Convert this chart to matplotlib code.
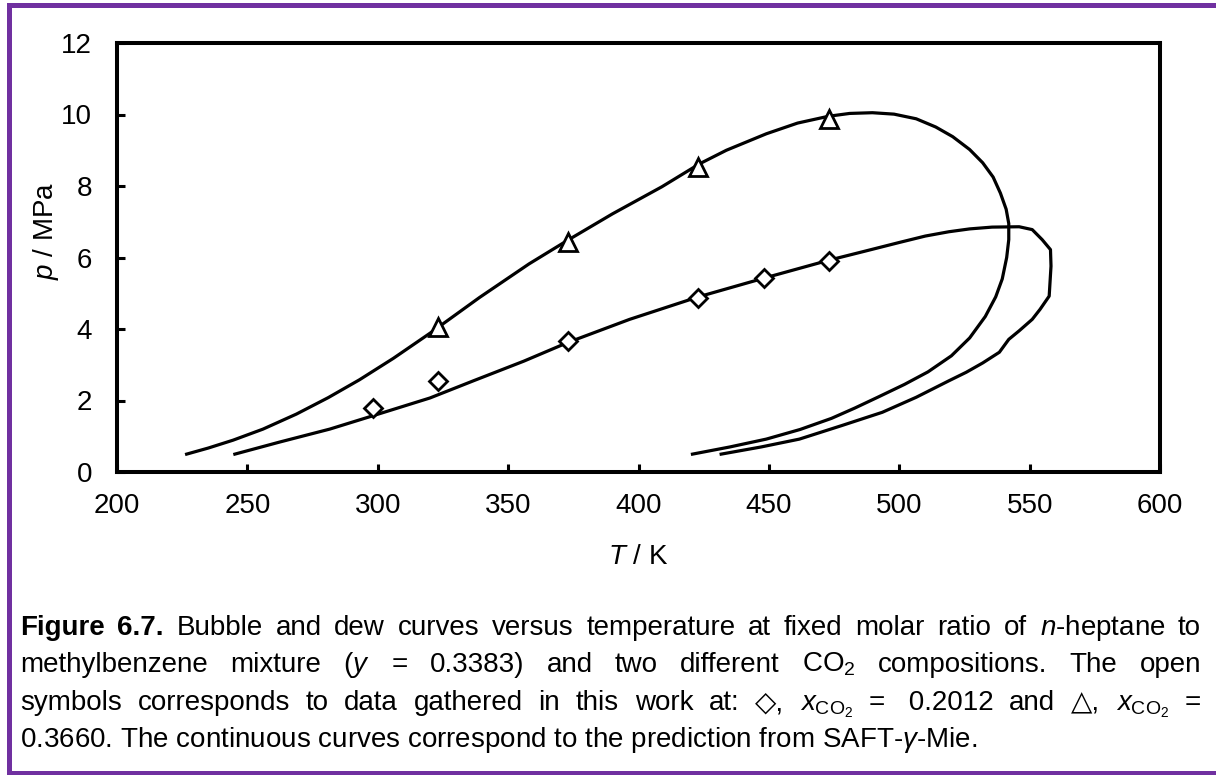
import matplotlib
matplotlib.use('Agg')
import matplotlib.pyplot as plt
from matplotlib.patches import Rectangle

plt.rcParams['font.family'] = ['Liberation Sans', 'DejaVu Sans']
plt.rcParams['mathtext.fontset'] = 'custom'
plt.rcParams['mathtext.rm'] = 'Liberation Sans'
plt.rcParams['mathtext.it'] = 'Liberation Sans:italic'
plt.rcParams['mathtext.bf'] = 'Liberation Sans:bold'

W, H = 1216, 775
PURPLE = '#7030a0'

# SAFT-gamma-Mie prediction, x_CO2 = 0.3660 (bubble branch then dew branch)
curve_a_T = [226.7, 235, 244.5, 256, 268.8, 281, 293, 306, 320, 339, 358, 372.8,
             390, 409, 423.4, 433.7, 449, 461, 472.8, 481, 489.7, 498, 506.5,
             514, 520.5, 527, 532, 536, 538.8, 541, 542, 542, 541.2, 539.5,
             537, 533, 527, 520, 511, 502, 492, 483, 474, 462, 449, 435, 420.7]
curve_a_p = [0.50, 0.67, 0.89, 1.20, 1.62, 2.08, 2.58, 3.18, 3.88, 4.88, 5.82, 6.48,
             7.22, 7.98, 8.62, 9.0, 9.46, 9.76, 9.95, 10.03, 10.05, 10.01, 9.88,
             9.65, 9.38, 9.02, 8.65, 8.25, 7.8, 7.35, 6.95, 6.5, 6.0, 5.4,
             4.9, 4.35, 3.75, 3.25, 2.8, 2.45, 2.1, 1.79, 1.5, 1.19, 0.92, 0.7, 0.50]

# SAFT-gamma-Mie prediction, x_CO2 = 0.2012
curve_b_T = [245.2, 262.5, 281.6, 298, 320, 337, 356, 372.8, 396.6, 423, 448,
             472.8, 487, 500, 510, 519, 527, 535.6, 546, 551, 554.8, 558, 558.2,
             557.5, 554, 551, 546, 542, 538.4, 532, 525.7, 519, 506.5, 493.5,
             478, 461.7, 447, 431.7]
curve_b_p = [0.50, 0.84, 1.2, 1.57, 2.07, 2.56, 3.1, 3.62, 4.27, 4.9, 5.42,
             5.92, 6.18, 6.42, 6.6, 6.72, 6.8, 6.85, 6.86, 6.78, 6.5, 6.22, 5.76,
             4.92, 4.55, 4.27, 3.95, 3.71, 3.35, 3.05, 2.79, 2.55, 2.09, 1.67,
             1.3, 0.92, 0.7, 0.50]

# experimental points
diamond_T = [298, 323, 373, 423, 448, 473]
diamond_p = [1.78, 2.54, 3.67, 4.88, 5.42, 5.91]
triangle_T = [323, 373, 423, 473]
triangle_p = [4.05, 6.42, 8.52, 9.87]

x_ticks = [200, 250, 300, 350, 400, 450, 500, 550, 600]
y_ticks = [0, 2, 4, 6, 8, 10, 12]

fig = plt.figure(figsize=(W / 100, H / 100), dpi=100)
ax = fig.add_axes([117 / W, 1 - 472 / H, (1160 - 117) / W, (472 - 43) / H])

ax.plot(curve_a_T, curve_a_p, color='black', lw=2.3, zorder=2)
ax.plot(curve_b_T, curve_b_p, color='black', lw=2.3, zorder=2)
ax.plot(diamond_T, diamond_p, ls='none', marker='D', ms=9.5, mfc='white',
        mec='black', mew=2.0, zorder=3)
ax.plot(triangle_T, triangle_p, ls='none', marker='^', ms=12.5, mfc='white',
        mec='black', mew=2.0, zorder=3)

ax.set_xlim(200, 600)
ax.set_ylim(0, 12)
ax.set_xticks(x_ticks)
ax.set_yticks(y_ticks)
ax.tick_params(direction='in', length=6, width=2.2, labelsize=20, top=False, right=False)
ax.tick_params(axis='x', pad=15)
ax.tick_params(axis='y', pad=18)
for s in ax.spines.values():
    s.set_linewidth(2.9)

fig.text(46 / W, 1 - 231 / H, r'$\mathit{p}$ / MPa', rotation=90, ha='center',
         va='center', fontsize=20)
fig.text(638 / W, 1 - 557 / H, r'$\mathit{T}$ / K', ha='center', va='center', fontsize=20)

# caption, first three lines justified
CAP_FS = 20
X0, X1 = 20, 1201
cap_lines = [
    [('Figure', 'bold'), ('6.7.', 'bold'), 'Bubble', 'and', 'dew', 'curves', 'versus',
     'temperature', 'at', 'fixed', 'molar', 'ratio', 'of', r'$\mathit{n}$-heptane', 'to'],
    ['methylbenzene', 'mixture', r'($\mathit{y}$', '=', '0.3383)', 'and', 'two',
     'different', r'CO$_2$', 'compositions.', 'The', 'open'],
    ['symbols', 'corresponds', 'to', 'data', 'gathered', 'in', 'this', 'work', 'at:',
     '\u25c7,', r'$x_{\mathrm{CO}_2}$', '=', ' 0.2012', 'and', '\u25b3,',
     r'$x_{\mathrm{CO}_2}$', '='],
]
cap_last = r'0.3660. The continuous curves correspond to the prediction from SAFT-$\mathit{\gamma}$-Mie.'
baselines = [635, 672, 710, 747]

renderer = fig.canvas.get_renderer()
for words, yb in zip(cap_lines, baselines):
    texts = []
    for w in words:
        if isinstance(w, tuple):
            s, wt = w
        else:
            s, wt = w, 'normal'
        texts.append(fig.text(0, 1 - yb / H, s, fontsize=CAP_FS, fontweight=wt,
                              ha='left', va='baseline'))
    widths = [t.get_window_extent(renderer).width for t in texts]
    gap = (X1 - X0 - sum(widths)) / (len(texts) - 1)
    x = X0
    for t, w in zip(texts, widths):
        t.set_x(x / W)
        x += w + gap
fig.text(X0 / W, 1 - baselines[3] / H, cap_last, fontsize=CAP_FS, ha='left', va='baseline')

# purple frame (left, top and bottom edges)
fig.add_artist(Rectangle((7 / W, 0), 5 / W, 1 - 3 / H, transform=fig.transFigure,
                         color=PURPLE, lw=0))
fig.add_artist(Rectangle((7 / W, 1 - 8 / H), 1, 5 / H, transform=fig.transFigure,
                         color=PURPLE, lw=0))
fig.add_artist(Rectangle((7 / W, 0), 1, 4 / H, transform=fig.transFigure,
                         color=PURPLE, lw=0))

fig.savefig('out.png', dpi=100)
